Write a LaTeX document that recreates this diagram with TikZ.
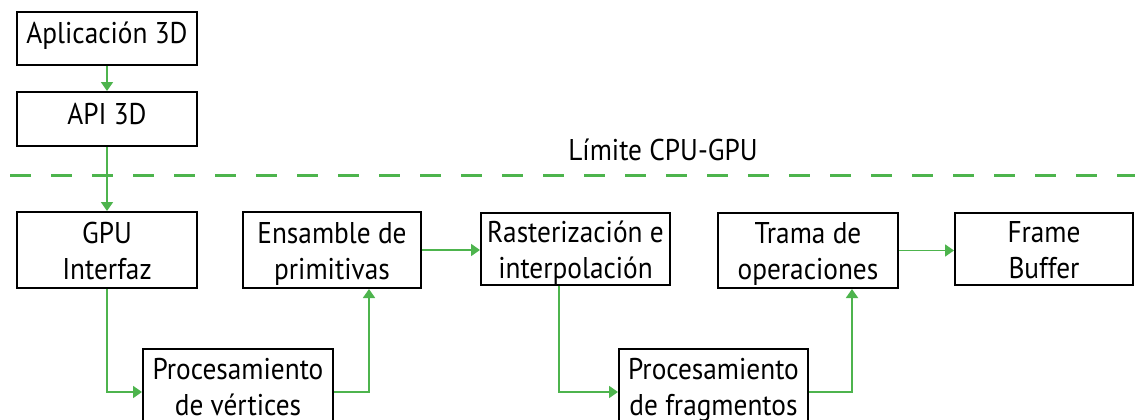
\documentclass[tikz,border=0pt]{standalone}
\usepackage{fontspec}
\setmainfont[FakeStretch=0.91]{PT Sans}
\usetikzlibrary{arrows.meta}
\definecolor{flow}{RGB}{77,180,77}
\begin{document}
\begin{tikzpicture}[x=1pt,y=-1pt,
  font=\fontsize{30}{36}\selectfont,
  box/.style={draw=black,line width=2pt,inner sep=0pt,align=center},
  one/.style={box,text height=20pt,text depth=10pt},
  two/.style={box,text height=58pt,text depth=0pt},
  link/.style={draw=flow,line width=1.8pt,-{Triangle[length=9pt,width=12pt]}},
  border/.style={draw=flow,line width=3pt,dash pattern=on 21pt off 20pt}]
\useasboundingbox (0,0) rectangle (1135,420);

% CPU side
\node[one,minimum width=180pt,minimum height=53pt] (app) at (107,38.5) {Aplicación 3D};
\node[one,minimum width=180pt,minimum height=54pt] (api) at (107,119) {API 3D};

% CPU-GPU boundary
\coordinate (bl) at (10,175);
\coordinate (br) at (1140,175);
\draw[border] (bl) -- (br);
\node[anchor=base,inner sep=0pt] (lim) at (663,160) {Límite CPU-GPU};

% GPU pipeline
\node[two,minimum width=180pt,minimum height=76pt] (gpu) at (107,250) {GPU\\Interfaz};
\node[two,minimum width=178pt,minimum height=76pt] (ens) at (332,250) {Ensamble de\\primitivas};
\node[two,minimum width=189pt,minimum height=72pt] (ras) at (575.5,249) {Rasterización e\\interpolación};
\node[two,minimum width=180pt,minimum height=75pt] (tra) at (808,250.5) {Trama de\\operaciones};
\node[two,minimum width=178pt,minimum height=72pt] (fb) at (1044,249) {Frame\\Buffer};
\node[two,minimum width=190pt,minimum height=74pt] (vp) at (238,386) {Procesamiento\\de vértices};
\node[two,minimum width=189pt,minimum height=74pt] (fp) at (713.5,386) {Procesamiento\\de fragmentos};

% connectors
\draw[link] (app.south) -- (api.north);
\draw[link] (api.south) -- (gpu.north);
\draw[link] (gpu.south) |- ([yshift=-6pt]vp.west);
\draw[link] ([yshift=-6pt]vp.east) -| ([xshift=37pt]ens.south);
\draw[link] (ens.east) -- (ens.east -| ras.west);
\draw[link] ([xshift=-16.5pt]ras.south) |- ([yshift=-6pt]fp.west);
\draw[link] ([yshift=-6pt]fp.east) -| ([xshift=44pt]tra.south);
\draw[link] (tra.east) -- (tra.east -| fb.west);
\end{tikzpicture}
\end{document}
